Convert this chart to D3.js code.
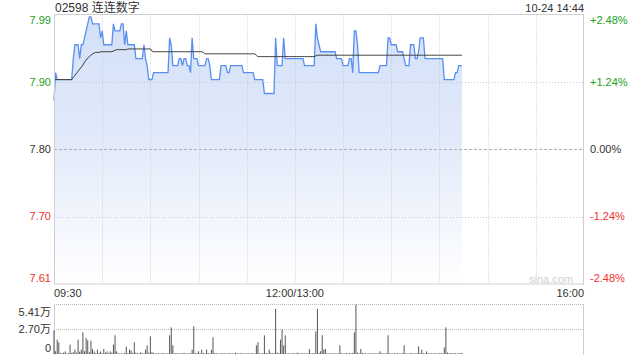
<!DOCTYPE html>
<html>
<head>
<meta charset="utf-8">
<script src="https://cdn.jsdelivr.net/npm/d3@7"></script>
<style>
  body { margin: 0; background: #fff; }
  svg text { font-family: Arial, "Liberation Sans", "Noto Sans CJK SC", sans-serif; }
</style>
</head>
<body>
<svg id="svg" width="640" height="360"></svg>
<script>
const title = "02598 连连数字";
const stamp = "10-24 14:44";
const preClose = 7.80;
const pctTicks = [2.48, 1.24, 0, -1.24, -2.48];
const timeTicks = [0, 150, 330];
const timeLabels = ["09:30", "12:00/13:00", "16:00"];
const volMax = 54100;
const volTicks = [54100, 27050, 0];
const volLabels = ["5.41万", "2.70万", "0"];

// one value per trading minute from 09:30
const prices = [
  7.87,7.91,7.90,7.90,7.90,7.90,7.90,7.90,7.90,7.90,
  7.90,7.90,7.93,7.95,7.95,7.95,7.93,7.95,7.95,7.96,
  7.97,7.98,7.99,7.99,7.98,7.98,7.98,7.98,7.98,7.96,
  7.97,7.95,7.95,7.95,7.95,7.95,7.95,7.98,7.97,7.97,
  7.97,7.97,7.98,7.98,7.95,7.97,7.95,7.95,7.95,7.95,
  7.95,7.93,7.93,7.93,7.93,7.93,7.95,7.93,7.92,7.90,
  7.90,7.90,7.91,7.91,7.91,7.91,7.91,7.91,7.91,7.91,
  7.91,7.91,7.96,7.95,7.92,7.92,7.92,7.92,7.93,7.93,
  7.92,7.93,7.93,7.92,7.92,7.91,7.96,7.93,7.93,7.93,
  7.92,7.92,7.92,7.92,7.92,7.93,7.93,7.92,7.90,7.90,
  7.90,7.90,7.90,7.90,7.92,7.92,7.92,7.92,7.91,7.91,
  7.92,7.92,7.92,7.92,7.92,7.92,7.92,7.92,7.91,7.91,
  7.91,7.91,7.91,7.91,7.91,7.90,7.90,7.90,7.90,7.90,
  7.90,7.88,7.88,7.88,7.88,7.88,7.88,7.88,7.96,7.92,
  7.92,7.92,7.92,7.96,7.93,7.93,7.93,7.93,7.93,7.93,
  7.93,7.93,7.93,7.93,7.93,7.93,7.92,7.92,7.92,7.92,
  7.92,7.92,7.92,7.98,7.96,7.95,7.94,7.94,7.94,7.94,
  7.94,7.94,7.94,7.94,7.94,7.94,7.93,7.93,7.93,7.93,
  7.92,7.92,7.92,7.92,7.93,7.93,7.91,7.97,7.97,7.95,
  7.91,7.91,7.91,7.91,7.91,7.91,7.91,7.91,7.91,7.91,
  7.91,7.91,7.91,7.92,7.92,7.92,7.92,7.92,7.96,7.96,
  7.95,7.95,7.95,7.95,7.94,7.94,7.94,7.94,7.93,7.92,
  7.92,7.92,7.95,7.95,7.95,7.93,7.93,7.94,7.96,7.96,
  7.96,7.93,7.93,7.93,7.93,7.93,7.93,7.93,7.93,7.93,
  7.93,7.93,7.93,7.90,7.90,7.90,7.90,7.90,7.90,7.90,
  7.91,7.91,7.92,7.92,7.92
];

const avgPrices = [
  7.900,7.900,7.900,7.900,7.900,7.900,7.900,7.900,7.900,7.900,
  7.900,7.900,7.903,7.906,7.909,7.912,7.915,7.918,7.921,7.925,
  7.928,7.931,7.933,7.935,7.937,7.938,7.939,7.939,7.939,7.940,
  7.940,7.940,7.940,7.940,7.940,7.940,7.940,7.941,7.942,7.943,
  7.943,7.943,7.943,7.943,7.943,7.943,7.944,7.944,7.944,7.944,
  7.944,7.944,7.944,7.944,7.944,7.944,7.944,7.944,7.944,7.944,
  7.944,7.941,7.940,7.940,7.940,7.940,7.940,7.940,7.940,7.940,
  7.940,7.940,7.940,7.940,7.940,7.940,7.940,7.940,7.940,7.940,
  7.940,7.940,7.940,7.940,7.940,7.940,7.940,7.940,7.940,7.940,
  7.940,7.940,7.940,7.939,7.937,7.937,7.937,7.937,7.937,7.937,
  7.937,7.937,7.937,7.937,7.937,7.937,7.937,7.937,7.937,7.937,
  7.937,7.937,7.937,7.937,7.937,7.937,7.937,7.937,7.937,7.937,
  7.937,7.937,7.937,7.937,7.937,7.937,7.935,7.933,7.933,7.933,
  7.933,7.933,7.933,7.933,7.933,7.933,7.933,7.933,7.933,7.933,
  7.933,7.933,7.933,7.933,7.933,7.933,7.933,7.933,7.933,7.933,
  7.933,7.933,7.933,7.933,7.933,7.933,7.933,7.933,7.933,7.933,
  7.933,7.933,7.933,7.934,7.935,7.935,7.935,7.935,7.935,7.935,
  7.935,7.935,7.935,7.935,7.935,7.935,7.935,7.935,7.935,7.935,
  7.935,7.935,7.935,7.935,7.935,7.935,7.935,7.935,7.935,7.935,
  7.935,7.935,7.935,7.935,7.935,7.935,7.935,7.935,7.935,7.935,
  7.935,7.935,7.935,7.935,7.935,7.935,7.935,7.935,7.935,7.935,
  7.935,7.935,7.935,7.935,7.935,7.935,7.935,7.935,7.935,7.935,
  7.935,7.935,7.935,7.935,7.935,7.935,7.935,7.935,7.935,7.935,
  7.935,7.935,7.935,7.935,7.935,7.935,7.935,7.935,7.935,7.935,
  7.935,7.935,7.935,7.935,7.935,7.935,7.935,7.935,7.935,7.935,
  7.935,7.935,7.935,7.935,7.935
];

const volumes = [
  25600,3000,15500,12600,1200,800,1500,2900,600,1000,
  10100,1200,2000,4700,1500,15500,2500,4700,23400,3000,
  17300,14800,2000,14400,5300,2900,1000,4700,1200,2800,
  800,5400,1500,2900,1000,2900,1500,10100,20200,2900,
  600,900,500,700,1200,7900,1000,4700,3800,1200,
  12600,1500,800,700,1900,900,600,4700,9300,1500,
  19100,2000,1000,800,600,900,500,700,1000,600,
  800,700,20200,28800,9400,800,1000,700,600,900,
  800,1200,700,600,900,800,4700,29900,900,1000,
  2900,800,4700,1000,600,4700,900,700,4700,18000,
  1200,900,700,600,800,1000,700,600,500,800,
  900,600,700,1500,800,600,700,900,600,500,
  800,700,600,900,700,600,9300,12600,800,700,
  900,20200,1000,800,4700,1200,800,900,49000,1500,
  1000,15500,26300,9300,20200,900,700,800,600,1000,
  700,800,1500,600,700,900,600,800,700,5300,
  900,800,1000,24500,49000,1200,3000,20200,4700,5400,
  800,700,600,900,700,800,600,700,9400,700,
  800,600,900,700,1000,800,1200,23400,53400,1500,
  800,5400,1200,900,700,600,800,700,900,600,
  700,600,800,2900,700,900,600,800,20200,800,
  700,600,900,700,800,600,700,900,9400,700,
  800,600,900,700,800,600,900,8300,1000,4700,
  800,700,2900,900,700,800,600,700,900,600,
  800,1000,700,7200,28800,1500,800,900,700,1000,
  800,600,900,700,1200
];

const svg = d3.select("#svg");
const plotLeft = 54, plotRight = 584, plotTop = 14.5, plotBottom = 284;
const volTop = 304, volBottom = 354;

const x = d3.scaleLinear().domain([0, 330]).range([plotLeft, plotRight]);
const y = d3
  .scaleLinear()
  .domain([preClose * (1 - 0.0248), preClose * (1 + 0.0248)])
  .range([plotBottom, plotTop]);
const yVol = d3.scaleLinear().domain([0, volMax]).range([volBottom, volTop]);

const colorFor = v => (v > 0 ? "#21a121" : v < 0 ? "#f0302a" : "#333");

// gradient under the price line
const grad = svg
  .append("defs")
  .append("linearGradient")
  .attr("id", "fillGrad")
  .attr("gradientUnits", "userSpaceOnUse")
  .attr("x1", 0).attr("x2", 0)
  .attr("y1", plotTop).attr("y2", plotBottom);
grad.append("stop").attr("offset", 0).attr("stop-color", "#d2e0f8");
grad.append("stop").attr("offset", 0.5).attr("stop-color", "#e3ebfa");
grad.append("stop").attr("offset", 1).attr("stop-color", "#ffffff");

// title and time stamp
svg.append("text")
  .attr("x", plotLeft + 1).attr("y", 12)
  .attr("font-size", 12).attr("fill", "#333")
  .text(title);
svg.append("text")
  .attr("x", plotRight).attr("y", 12)
  .attr("text-anchor", "end")
  .attr("font-size", 11).attr("fill", "#333")
  .text(stamp);

// area under price
const area = d3.area()
  .x((d, i) => x(i))
  .y0(plotBottom)
  .y1(d => y(d));
svg.append("path")
  .attr("d", area(prices))
  .attr("fill", "url(#fillGrad)");

// grid
const gridCol = "#c8c8c8";
svg.append("g")
  .selectAll("line")
  .data(d3.range(30, 330, 30))
  .join("line")
  .attr("x1", d => Math.round(x(d)) + 0.5)
  .attr("x2", d => Math.round(x(d)) + 0.5)
  .attr("y1", plotTop).attr("y2", plotBottom)
  .attr("stroke", gridCol)
  .attr("stroke-dasharray", "1,2");

svg.append("g")
  .selectAll("line")
  .data(pctTicks.slice(1, 4))
  .join("line")
  .attr("x1", plotLeft).attr("x2", plotRight)
  .attr("y1", d => Math.round(y(preClose * (1 + d / 100))) + 0.5)
  .attr("y2", d => Math.round(y(preClose * (1 + d / 100))) + 0.5)
  .attr("stroke", d => (d === 0 ? "#b0b0b0" : gridCol))
  .attr("stroke-dasharray", d => (d === 0 ? "3,2" : "1,2"));

svg.append("path")
  .attr("d", d3.line().x((d, i) => x(i)).y(d => y(d))(prices))
  .attr("fill", "none")
  .attr("stroke", "#5a8ff0")
  .attr("stroke-width", 1.3);

svg.append("path")
  .attr("d", d3.line().x((d, i) => x(i)).y(d => y(d))(avgPrices))
  .attr("fill", "none")
  .attr("stroke", "#3a3a3a")
  .attr("stroke-width", 1);

// frame
svg.append("rect")
  .attr("x", plotLeft + 0.5).attr("y", plotTop)
  .attr("width", plotRight - plotLeft - 1).attr("height", plotBottom - plotTop)
  .attr("fill", "none")
  .attr("stroke", "#cfcfcf");

// watermark
svg.append("text")
  .attr("x", 573).attr("y", 283)
  .attr("text-anchor", "end")
  .attr("font-size", 11).attr("fill", "#d0d0d0")
  .text("sina.com");

// price axis labels
svg.append("g")
  .selectAll("text")
  .data(pctTicks)
  .join("text")
  .attr("x", 51)
  .attr("y", d => Math.max(20, Math.min(278, y(preClose * (1 + d / 100)))))
  .attr("dy", "0.35em")
  .attr("text-anchor", "end")
  .attr("font-size", 11)
  .attr("fill", colorFor)
  .text(d => (preClose * (1 + d / 100)).toFixed(2));

svg.append("g")
  .selectAll("text")
  .data(pctTicks)
  .join("text")
  .attr("x", 590)
  .attr("y", d => Math.max(20, Math.min(278, y(preClose * (1 + d / 100)))))
  .attr("dy", "0.35em")
  .attr("font-size", 11)
  .attr("fill", colorFor)
  .text(d => (d > 0 ? "+" : "") + d.toFixed(2) + "%");

// time labels
svg.append("g")
  .selectAll("text")
  .data(timeTicks)
  .join("text")
  .attr("x", d => x(d))
  .attr("y", 297)
  .attr("text-anchor", (d, i) => (i === 0 ? "start" : i === timeTicks.length - 1 ? "end" : "middle"))
  .attr("font-size", 11)
  .attr("fill", "#333")
  .text((d, i) => timeLabels[i]);

// volume panel
svg.append("g")
  .selectAll("line")
  .data(volTicks.slice(0, 2))
  .join("line")
  .attr("x1", plotLeft).attr("x2", plotRight)
  .attr("y1", d => Math.round(yVol(d)) + 0.5)
  .attr("y2", d => Math.round(yVol(d)) + 0.5)
  .attr("stroke", "#bbb")
  .attr("stroke-dasharray", "1,1");

svg.append("g")
  .selectAll("line")
  .data([plotLeft + 0.5, plotRight - 0.5])
  .join("line")
  .attr("x1", d => d).attr("x2", d => d)
  .attr("y1", volTop).attr("y2", volBottom + 1)
  .attr("stroke", "#cfcfcf");

svg.append("g")
  .selectAll("rect")
  .data(volumes)
  .join("rect")
  .attr("x", (d, i) => x(i) - 0.5)
  .attr("width", 1)
  .attr("y", d => yVol(d))
  .attr("height", d => volBottom - yVol(d))
  .attr("fill", "#555");

svg.append("g")
  .selectAll("text")
  .data(volTicks)
  .join("text")
  .attr("x", 51)
  .attr("y", d => Math.max(312, Math.min(348, yVol(d))))
  .attr("dy", "0.35em")
  .attr("text-anchor", "end")
  .attr("font-size", 11)
  .attr("fill", "#333")
  .text((d, i) => volLabels[i]);
</script>
</body>
</html>
